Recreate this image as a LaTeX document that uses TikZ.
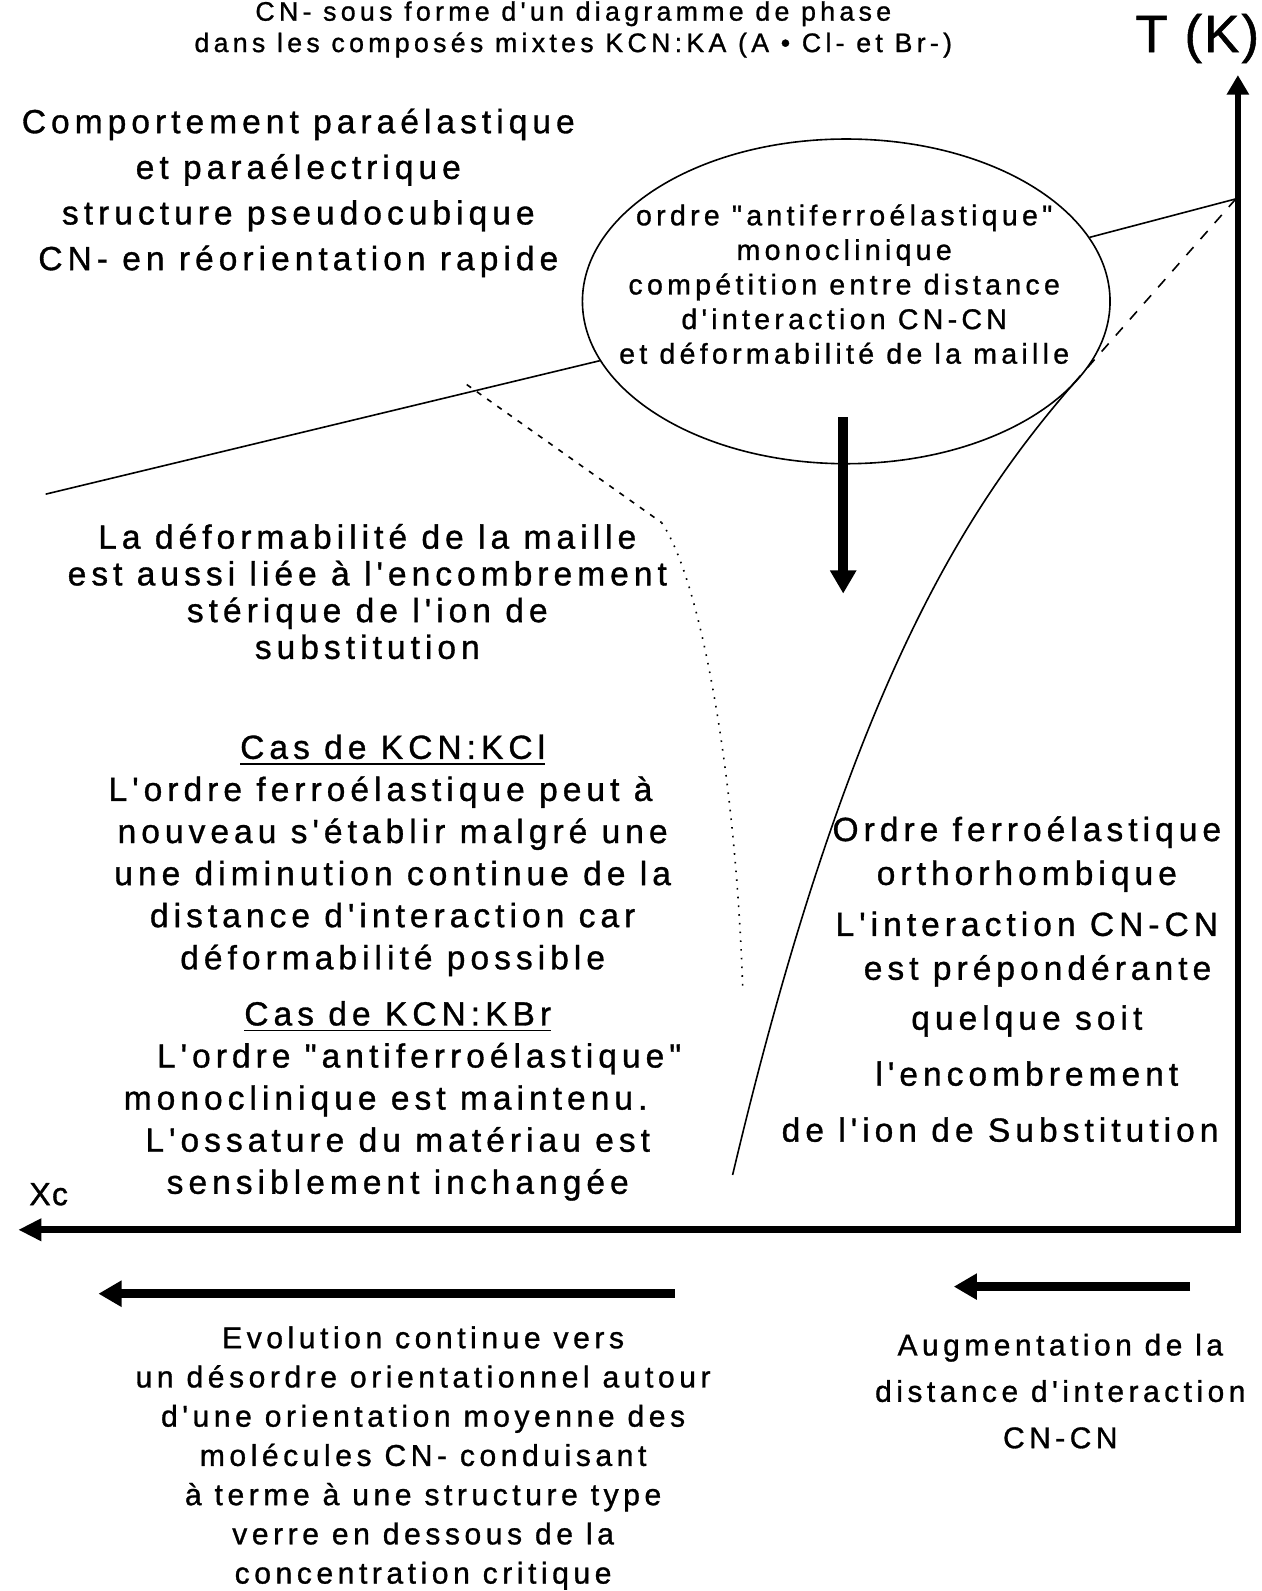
\documentclass[tikz,border=0pt]{standalone}
\usepackage{fontspec}
\newfontfamily\wide{Liberation Sans}[LetterSpace=15,FakeBold=1]
\newfontfamily\titlef{Liberation Sans}[LetterSpace=16,FakeBold=1]
\newfontfamily\axisf{Liberation Sans}[LetterSpace=4,FakeBold=1]
\usetikzlibrary{arrows.meta,shapes.geometric}

\begin{document}
\begin{tikzpicture}[x=0.1mm,y=-0.1mm,
  txt/.style 2 args={align=center,inner sep=0pt,font=\wide\fontsize{#1}{#2}\selectfont},
  thin/.style={line width=0.45pt},
  axis/.style={line width=1.85pt,line join=miter,{Triangle[length=6.5pt,width=6pt]}-{Triangle[length=5.5pt,width=6pt]}},
  bigarr/.style={line width=2.4pt,-{Triangle[length=6.5pt,width=7pt]}}]
  \useasboundingbox (0,0) rectangle (1243,1568);

  % titre et axes
  \node[align=center,inner sep=0pt,font=\titlef\fontsize{7.5}{8.8}\selectfont] (title) at (565,29)
    {CN- sous forme d'un diagramme de phase\\dans les composés mixtes KCN:KA (A • Cl- et Br-)};
  \node[inner sep=0pt,font=\axisf\fontsize{14.8}{16}\selectfont] (tk) at (1180,38) {T (K)};
  \node[inner sep=0pt,font=\axisf\fontsize{9}{12}\selectfont] (xc) at (48,1177) {Xc};
  \coordinate (orig) at (1220,1212);
  \coordinate (ytip) at (1220,74);
  \coordinate (xtip) at (18,1212);
  \draw[axis] (xtip) -- (orig) -- (ytip);

  % phases
  \node[txt={9.4}{12.8}] (para) at (294,190)
    {Comportement paraélastique\\et paraélectrique\\structure pseudocubique\\CN- en réorientation rapide};
  \node[draw,ellipse,thin,minimum width=52mm,minimum height=32mm,inner sep=0pt] (phase) at (834,297) {};
  \node[txt={8}{9.7}] (phasetxt) at (832,280)
    {ordre "antiferroélastique"\\monoclinique\\compétition entre distance\\d'interaction CN-CN\\et déformabilité de la maille};
  \node[txt={9.4}{10.3}] (deform) at (362,583)
    {La déformabilité de la maille\\est aussi liée à l'encombrement\\stérique de l'ion de\\substitution};
  \node[txt={9.4}{11.8}] (kcl) at (387,843)
    {\underline{Cas de KCN:KCl}\\L'ordre ferroélastique peut à\makebox[6.8pt]{}\\nouveau s'établir malgré une\\une diminution continue de la\\distance d'interaction car\\déformabilité possible};
  \node[txt={9.4}{11.8}] (kbr) at (392,1085)
    {\underline{Cas de KCN:KBr}\\\makebox[12pt]{}L'ordre "antiferroélastique"\\monoclinique est maintenu.\makebox[6.8pt]{}\\L'ossature du matériau est\\sensiblement inchangée};
  \node[txt={9.4}{12}] (ferro) at (1012,965)
    {Ordre ferroélastique\\[0.3pt]orthorhombique\\[2.3pt]L'interaction CN-CN\\[0.3pt]\makebox[6pt]{}est prépondérante\\[2pt]quelque soit\\[3.7pt]l'encombrement\\[3.7pt]de l'ion de Substitution\makebox[15pt]{}};

  % limites de phase
  \coordinate (lo) at (45,487);
  \coordinate (tc) at (1218,196);
  \draw[thin] (lo) -- (phase);
  \draw[thin] (phase) -- (tc);
  \coordinate (cm) at (1065,370);
  \coordinate (cb) at (722,1158);
  \draw[thin,dashed] (tc) -- (cm);
  \draw[thin] (cm) .. controls (960,490) and (840,660) .. (cb);
  \coordinate (dd) at (460,379);
  \coordinate (dm) at (652,515);
  \coordinate (de) at (732,975);
  \draw[thin,dash pattern=on 1.5pt off 2pt] (dd) -- (dm);
  \draw[thin,dotted] (dm) .. controls (690,570) and (725,760) .. (de);

  % fleches
  \coordinate (dn1) at (831,411);
  \coordinate (dn2) at (831,585);
  \draw[bigarr,line width=2.8pt] (dn1) -- (dn2);
  \coordinate (ev1) at (665,1275);
  \coordinate (ev2) at (97,1275);
  \draw[bigarr] (ev1) -- (ev2);
  \coordinate (au1) at (1173,1268);
  \coordinate (au2) at (940,1268);
  \draw[bigarr] (au1) -- (au2);

  \node[txt={8.45}{11}] (evol) at (417,1437)
    {Evolution continue vers\\un désordre orientationnel autour\\d'une orientation moyenne des\\molécules CN- conduisant\\à terme à une structure type\\verre en dessous de la\\concentration critique};
  \node[txt={8.4}{13}] (augm) at (1045,1371)
    {Augmentation de la\\distance d'interaction\\CN-CN};
\end{tikzpicture}
\end{document}
